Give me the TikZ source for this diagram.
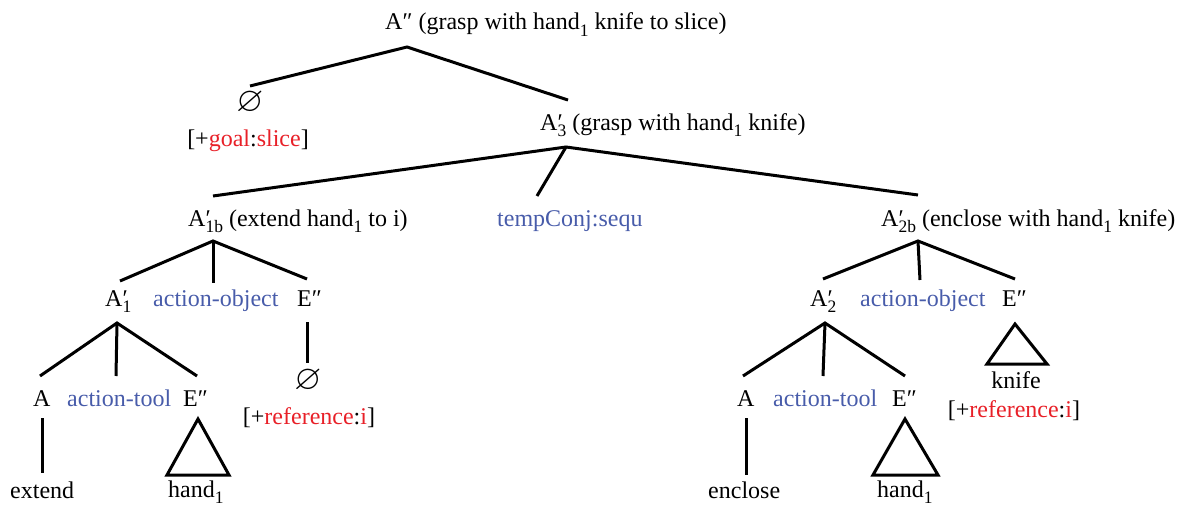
\documentclass[tikz,border=0pt]{standalone}
\usepackage{fontspec}
\usepackage{amssymb}
\usepackage{graphicx}
\setmainfont{Liberation Serif}
\definecolor{tred}{RGB}{232,32,40}
\definecolor{tblue}{RGB}{72,92,170}
\newcommand\subs[1]{\raisebox{-0.28em}{\fontsize{17.5}{17.5}\selectfont #1}}
\newcommand\Apr[1]{A\rlap{′}\subs{#1}}
\newcommand\rd[1]{\textcolor{tred}{#1}}
\newcommand\nul{\scalebox{1.45}{$\varnothing$}}
\begin{document}
\begin{tikzpicture}[x=1pt,y=-1pt,
  lbl/.style={inner sep=0pt, anchor=base west, font=\fontsize{24}{28}\selectfont},
  clbl/.style={lbl, anchor=base},
  blu/.style={text=tblue},
  edge/.style={line width=3pt},
  tri/.style={line width=3pt, line join=miter}]
\useasboundingbox (0,0) rectangle (1187,506);
% labels
\node[lbl] (top) at (385,30) {A″ (grasp with hand\subs{1} knife to slice)};
\node[clbl] (nul1) at (250,111) {\nul};
\node[clbl] (goal) at (248,146) {[+\rd{goal}:\rd{slice}]};
\node[lbl] (a3) at (540,130) {\Apr{3} (grasp with hand\subs{1} knife)};
\node[lbl] (a1b) at (188,226) {\Apr{1b} (extend hand\subs{1} to i)};
\node[lbl,blu] (tc) at (497,226) {tempConj:sequ};
\node[lbl] (a2b) at (881,226) {\Apr{2b} (enclose with hand\subs{1} knife)};
\node[lbl] (a1) at (105,306) {\Apr{1}};
\node[lbl,blu] (ao1) at (153,306) {action-object};
\node[lbl] (e1) at (297,306) {E″};
\node[lbl] (a2) at (810,306) {\Apr{2}};
\node[lbl,blu] (ao2) at (860,306) {action-object};
\node[lbl] (e2) at (1002,306) {E″};
\node[lbl] (aa1) at (33,406) {A};
\node[lbl,blu] (at1) at (67,406) {action-tool};
\node[lbl] (ee1) at (183,406) {E″};
\node[lbl] (aa2) at (737,406) {A};
\node[lbl,blu] (at2) at (773,406) {action-tool};
\node[lbl] (ee2) at (892,406) {E″};
\node[lbl] (ext) at (10,498) {extend};
\node[lbl] (h1) at (168,497) {hand\subs{1}};
\node[lbl] (enc) at (708,498) {enclose};
\node[lbl] (h2) at (877,497) {hand\subs{1}};
\node[clbl] (nul2) at (308,389) {\nul};
\node[clbl] (ref1) at (309,424) {[+\rd{reference}:\rd{i}]};
\node[clbl] (knife) at (1016,388) {knife};
\node[clbl] (ref2) at (1014,417) {[+\rd{reference}:\rd{i}]};
% connector end points
\coordinate (p0) at (407,47);
\coordinate (p0l) at (250,86);
\coordinate (p0r) at (568,100);
\coordinate (p1) at (566,147);
\coordinate (p1l) at (213,196);
\coordinate (p1m) at (537,196);
\coordinate (p1r) at (918,195);
\coordinate (p2) at (213,241);
\coordinate (p2l) at (120,281);
\coordinate (p2m) at (213,283);
\coordinate (p2r) at (307,279);
\coordinate (p3) at (918,241);
\coordinate (p3l) at (823,279);
\coordinate (p3m) at (920,280);
\coordinate (p3r) at (1015,279);
\coordinate (p4) at (117,323);
\coordinate (p4l) at (40,376);
\coordinate (p4m) at (116,376);
\coordinate (p4r) at (197,376);
\coordinate (p5) at (825,323);
\coordinate (p5l) at (743,376);
\coordinate (p5m) at (823,376);
\coordinate (p5r) at (905,376);
\coordinate (v1a) at (42,418);
\coordinate (v1b) at (42,473);
\coordinate (v2a) at (746,418);
\coordinate (v2b) at (746,475);
\coordinate (v3a) at (307,322);
\coordinate (v3b) at (307,363);
\coordinate (t1a) at (198,419);
\coordinate (t1b) at (167,475);
\coordinate (t1c) at (229,475);
\coordinate (t2a) at (905,419);
\coordinate (t2b) at (873,475);
\coordinate (t2c) at (938,475);
\coordinate (t3a) at (1015,324);
\coordinate (t3b) at (987,364);
\coordinate (t3c) at (1047,364);
% connectors
\draw[edge] (p0l) -- (p0) -- (p0r);
\draw[edge] (p1l) -- (p1) -- (p1r);
\draw[edge] (p1) -- (p1m);
\draw[edge] (p2l) -- (p2) -- (p2r);
\draw[edge] (p2) -- (p2m);
\draw[edge] (p3l) -- (p3) -- (p3r);
\draw[edge] (p3) -- (p3m);
\draw[edge] (p4l) -- (p4) -- (p4r);
\draw[edge] (p4) -- (p4m);
\draw[edge] (p5l) -- (p5) -- (p5r);
\draw[edge] (p5) -- (p5m);
\draw[edge] (v1a) -- (v1b);
\draw[edge] (v2a) -- (v2b);
\draw[edge] (v3a) -- (v3b);
\draw[tri] (t1a) -- (t1b) -- (t1c) -- cycle;
\draw[tri] (t2a) -- (t2b) -- (t2c) -- cycle;
\draw[tri] (t3a) -- (t3b) -- (t3c) -- cycle;
\end{tikzpicture}
\end{document}
